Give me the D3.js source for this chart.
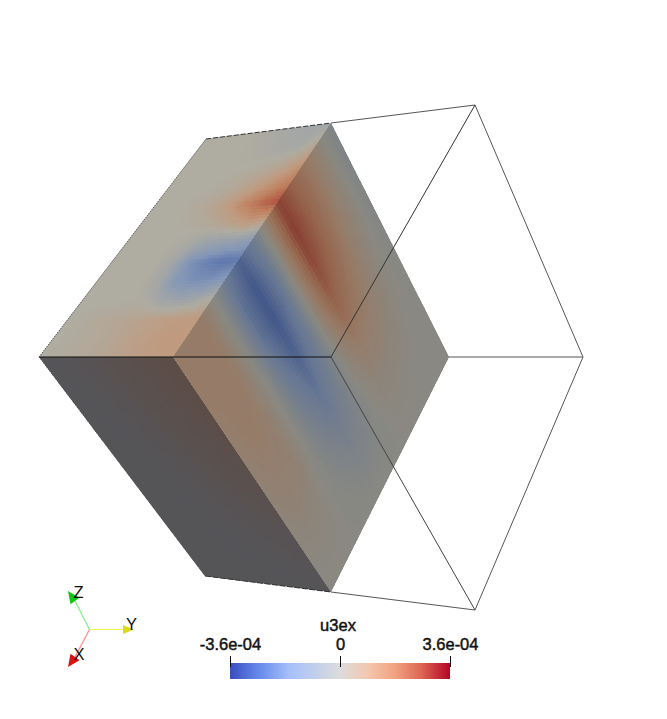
<!DOCTYPE html>
<html lang="en">
<head>
<meta charset="UTF-8">
<title>u3ex</title>
<script src="https://d3js.org/d3.v7.min.js"></script>
<style>
  body { margin: 0; background: #fff; }
  svg { display: block; }
  text { font-family: "Liberation Sans", Arial, sans-serif; fill: #111; }
</style>
</head>
<body>
<div id="chart"></div>
<script>
// field values, in units of 1e-4
const fieldTitle = "u3ex";
const fieldMax = 3.6;
const tickValues = [-3.6, 0, 3.6];
const tickLabels = ["-3.6e-04", "0", "3.6e-04"];

// colour map
const colorStops = [0, 0.12, 0.27, 0.5, 0.63, 0.75, 0.87, 1];
const colorValues = ["#3b4cc0", "#6285e8", "#a5c0fb", "#dddcdc", "#f3c6ae", "#f2a280", "#dd6655", "#b40426"];

// slice face, rows run along the stripes, columns across them
const frontValues = [
  [.9, .9, .9, .1, -1.5, -2.3, -1.3, .7, 2.6, 1.8, 1.1, .3, -.5],
  [.9, .9, .9, .0, -1.8, -2.6, -1.6, .7, 2.7, 1.9, 1.1, .3, -.5],
  [.8, .9, .9, .0, -1.8, -2.6, -1.6, .7, 2.5, 1.8, 1.0, .3, -.4],
  [.7, .9, .8, .0, -1.5, -2.4, -1.4, .6, 2.1, 1.5, .8, .2, -.3],
  [.5, .8, .7, .0, -1.2, -2.0, -1.2, .4, 1.5, 1.1, .6, .1, -.2],
  [.4, .6, .6, .0, -.9, -1.5, -.9, .2, .8, .7, .4, .1, -.1],
  [.2, .4, .3, -.1, -.5, -.9, -.6, .0, .4, .3, .2, .0, .0],
  [.1, .15, .1, -.05, -.2, -.4, -.3, -.05, .1, .1, .0, .0, .0],
  [.0, .0, .0, .0, .0, .0, .0, .0, .0, .0, .0, .0, .0]
];

// upper face, first row is the edge shared with the lower face
const topValues = [
  [0, .05, .15, .25, .4, .6, .8, .9, .9],
  [0, .05, .15, .25, .45, .65, .85, 1.0, .9],
  [0, .05, .2, .3, .45, .6, .75, .85, .9],
  [0, 0, 0, 0, .0, -.5, -.7, -.5, .1],
  [0, 0, 0, 0, -.4, -1.5, -1.8, -1.8, -1.5],
  [0, 0, 0, 0, -.5, -1.7, -2.1, -2.4, -2.3],
  [0, 0, 0, 0, -.2, -.7, -.9, -1.0, -1.3],
  [0, 0, 0, 0, .1, .3, .6, 1.0, .7],
  [0, 0, 0, .15, .4, .9, 1.6, 2.2, 2.6],
  [0, 0, 0, 0, .15, .4, .8, 1.3, 1.8],
  [0, 0, 0, 0, 0, .05, .2, .5, 1.1],
  [0, 0, 0, 0, -.05, -.15, -.3, -.3, .3],
  [0, 0, 0, 0, -.1, -.25, -.4, -.5, -.5]
];

// lower face, first row is the edge shared with the upper face
const bottomValues = [
  [0, .1, .4, .7, .9],
  [0, .05, .3, .6, .9],
  [0, 0, .15, .4, .7],
  [0, 0, .05, .15, .3],
  [0, 0, 0, 0, .05]
];

// how much light each face gets
const frontLight = [.62, .62, .59];
const topLight = [.79, .78, .73];
const bottomLight = [.385, .385, .4];

// projected box corners, this is the camera
const cam = {
  a: [39, 357], b: [206, 139], c: [331, 123], d: [173, 357],
  e: [205, 576], f: [331, 592], g: [449, 357], h: [331, 357],
  outerTop: [475, 105], outerRight: [583, 357], outerBottom: [475, 610]
};

const width = 667, height = 719;
const svg = d3.select("#chart").append("svg").attr("width", width).attr("height", height);

const color = d3.scaleLinear()
  .domain(colorStops.map(t => -fieldMax + t * 2 * fieldMax))
  .range(colorValues)
  .interpolate(d3.interpolateRgb)
  .clamp(true);

// quad p00 p01 / p10 p11 -> screen position through two edge scales
function quadProjector(p00, p01, p10, p11) {
  const startEdge = d3.scaleLinear().domain([0, 1]).range([p00, p10]);
  const endEdge = d3.scaleLinear().domain([0, 1]).range([p01, p11]);
  return (col, row) => d3.scaleLinear().domain([0, 1]).range([startEdge(row), endEdge(row)])(col);
}

function sampleValue(values, row, col) {
  const r0 = Math.min(Math.floor(row), values.length - 2);
  const c0 = Math.min(Math.floor(col), values[0].length - 2);
  const fr = row - r0, fc = col - c0;
  const top = d3.interpolateNumber(values[r0][c0], values[r0][c0 + 1])(fc);
  const bot = d3.interpolateNumber(values[r0 + 1][c0], values[r0 + 1][c0 + 1])(fc);
  return d3.interpolateNumber(top, bot)(fr);
}

function drawFace(id, values, corners, light) {
  const nRow = values.length - 1, nCol = values[0].length - 1;
  const project = quadProjector(...corners);
  const outline = [corners[0], corners[1], corners[3], corners[2]];
  svg.append("clipPath").attr("id", id).append("polygon").attr("points", outline.join(" "));
  const g = svg.append("g").attr("clip-path", `url(#${id})`).attr("shape-rendering", "crispEdges");
  const sub = 6; // smooth shading inside each cell
  const cells = [];
  for (let r = 0; r < nRow * sub; r++) {
    for (let c = 0; c < nCol * sub; c++) {
      cells.push({ r: r / sub, c: c / sub });
    }
  }
  const step = 1 / sub;
  g.selectAll("path").data(cells).join("path")
    .attr("d", d => {
      const pts = [[d.c, d.r], [d.c + step, d.r], [d.c + step, d.r + step], [d.c, d.r + step]]
        .map(p => project(p[0] / nCol, p[1] / nRow));
      return d3.line()(pts) + "Z";
    })
    .each(function (d) {
      const v = sampleValue(values, d.r + step / 2, d.c + step / 2);
      const rgb = d3.rgb(color(v));
      const lit = d3.rgb(rgb.r * light[0], rgb.g * light[1], rgb.b * light[2]).formatRgb();
      d3.select(this).attr("fill", lit).attr("stroke", lit).attr("stroke-width", 1);
    });
}

// wireframe behind the faces
const backLines = [
  [cam.c, cam.outerTop], [cam.f, cam.outerBottom],
  [cam.outerTop, cam.outerRight], [cam.outerRight, cam.outerBottom],
  [cam.g, cam.outerRight]
];
svg.append("g").selectAll("line").data(backLines).join("line")
  .attr("x1", d => d[0][0]).attr("y1", d => d[0][1])
  .attr("x2", d => d[1][0]).attr("y2", d => d[1][1])
  .attr("stroke", "#555").attr("stroke-width", 1);

drawFace("faceBottom", bottomValues, [cam.a, cam.d, cam.e, cam.f], bottomLight);
drawFace("faceTop", topValues, [cam.a, cam.d, cam.b, cam.c], topLight);
drawFace("faceFront", frontValues, [cam.d, cam.c, cam.f, cam.g], frontLight);

// wireframe showing through the faces
const frontLines = [
  { p: [cam.a, cam.h], stroke: "#111", w: 1.1 },
  { p: [cam.h, cam.outerTop], stroke: "#333", w: 1 },
  { p: [cam.h, cam.outerBottom], stroke: "#444", w: 1 },
  { p: [cam.a, cam.b], stroke: "#444", w: 0.8, dash: "1.5 1" },
  { p: [cam.b, cam.c], stroke: "#333", w: 1, dash: "5 2" },
  { p: [cam.a, cam.e], stroke: "#555", w: 0.6, dash: "1.5 1" },
  { p: [cam.e, cam.f], stroke: "#333", w: 1, dash: "6 1.5" }
];
svg.append("g").selectAll("line").data(frontLines).join("line")
  .attr("x1", d => d.p[0][0]).attr("y1", d => d.p[0][1])
  .attr("x2", d => d.p[1][0]).attr("y2", d => d.p[1][1])
  .attr("stroke", d => d.stroke).attr("stroke-width", d => d.w)
  .attr("stroke-dasharray", d => d.dash || null);

// colour legend
const barX = d3.scaleLinear().domain([-fieldMax, fieldMax]).range([230, 450]);
const barTop = 663, barHeight = 16;
const grad = svg.append("defs").append("linearGradient").attr("id", "legendGrad");
grad.selectAll("stop").data(colorStops).join("stop")
  .attr("offset", d => d)
  .attr("stop-color", (d, i) => colorValues[i]);
svg.append("rect").attr("x", barX(-fieldMax)).attr("y", barTop)
  .attr("width", barX(fieldMax) - barX(-fieldMax)).attr("height", barHeight)
  .attr("fill", "url(#legendGrad)");

const legendAxis = d3.axisTop(barX)
  .tickValues(tickValues)
  .tickFormat((d, i) => tickLabels[i])
  .tickSize(11)
  .tickPadding(6);
const axisG = svg.append("g").attr("transform", `translate(0,${barTop + 4})`).call(legendAxis);
axisG.select(".domain").remove();
axisG.selectAll("line").attr("stroke", "#111");
axisG.selectAll("text")
  .style("font-family", '"Liberation Sans", Arial, sans-serif')
  .style("font-size", "16.5px")
  .attr("fill", "#111").attr("stroke", "#111").attr("stroke-width", 0.45);

svg.append("text").attr("x", 338).attr("y", 630.5)
  .attr("text-anchor", "middle").style("font-size", "16.5px")
  .attr("stroke", "#111").attr("stroke-width", 0.45)
  .text(fieldTitle);

// orientation widget
const origin = [89.5, 629.5];
const axesWidget = [
  { name: "Y", tip: [134, 629.5], base: [123, 629.5], half: 4.5, line: "#f2f250", cone: "#dcdc10", label: [126, 630] },
  { name: "Z", tip: [68, 591], base: [75, 601], half: 5.5, line: "#80ee80", cone: "#10c810", label: [73.5, 598] },
  { name: "X", tip: [68, 667], base: [75, 657], half: 5.5, line: "#ff8a8a", cone: "#dc1010", label: [73.5, 660] }
];
const widget = svg.append("g");
widget.selectAll("line").data(axesWidget).join("line")
  .attr("x1", origin[0]).attr("y1", origin[1])
  .attr("x2", d => d.base[0]).attr("y2", d => d.base[1])
  .attr("stroke", d => d.line).attr("stroke-width", 1.2);
widget.selectAll("polygon").data(axesWidget).join("polygon")
  .attr("fill", d => d.cone)
  .attr("points", d => {
    const dx = d.tip[0] - d.base[0], dy = d.tip[1] - d.base[1];
    const len = Math.hypot(dx, dy), nx = -dy / len * d.half, ny = dx / len * d.half;
    return [d.tip, [d.base[0] + nx, d.base[1] + ny], [d.base[0] - nx, d.base[1] - ny]].join(" ");
  });
widget.selectAll("text").data(axesWidget).join("text")
  .attr("x", d => d.label[0]).attr("y", d => d.label[1])
  .style("font-size", "16.5px")
  .text(d => d.name);
</script>
</body>
</html>
